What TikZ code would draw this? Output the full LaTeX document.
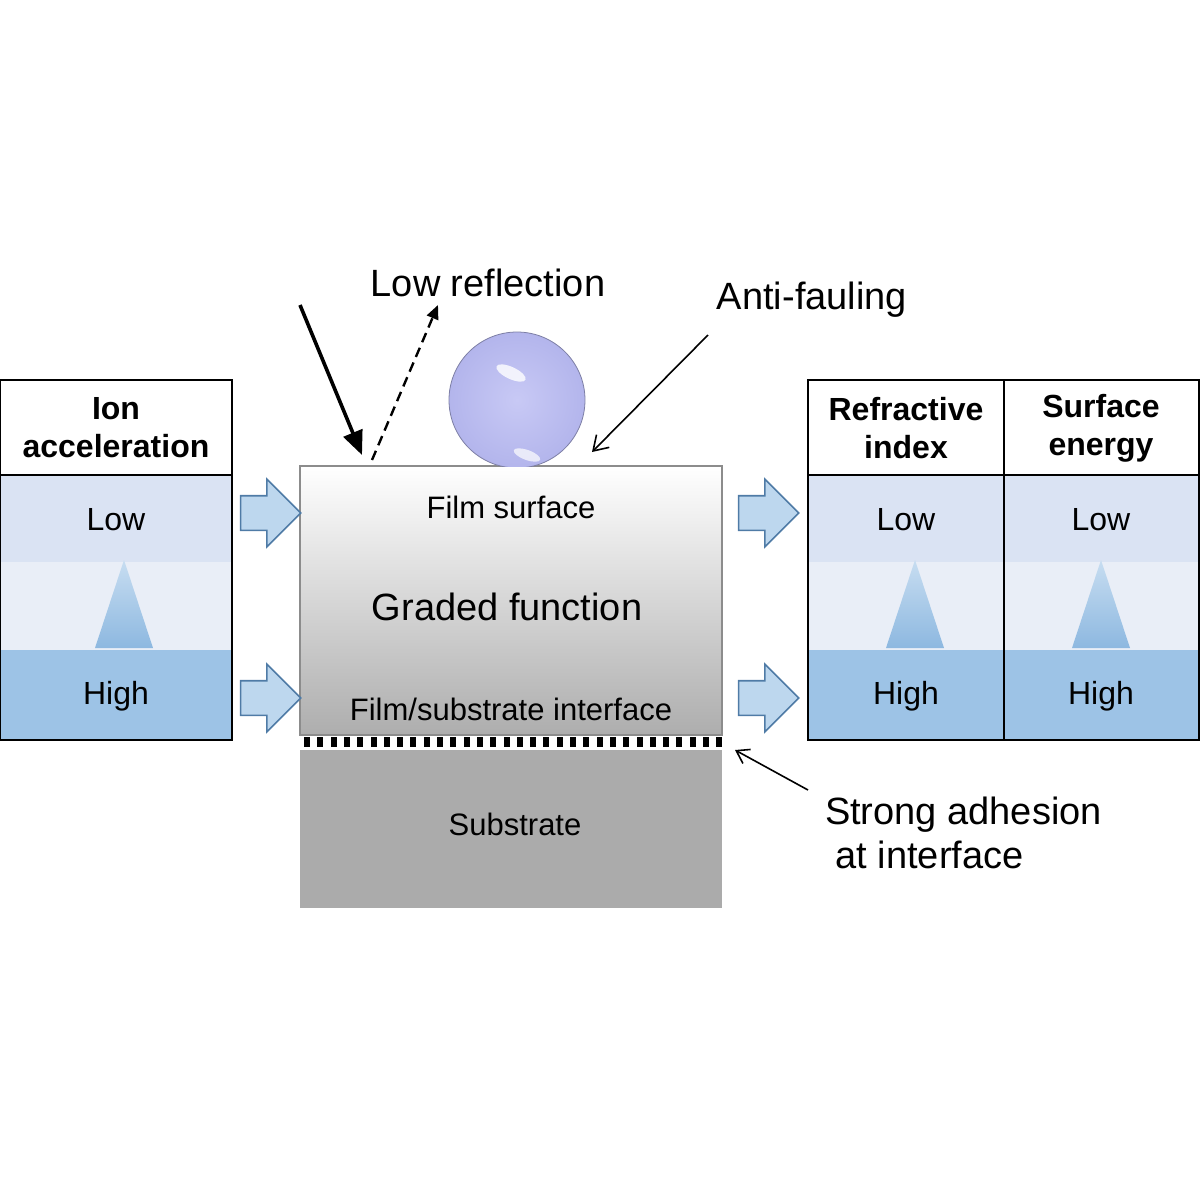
\documentclass[tikz,border=0pt]{standalone}
\usepackage{fontspec}
\setmainfont{Liberation Sans}
\usetikzlibrary{shapes.arrows,arrows.meta}
\definecolor{cLow}{HTML}{DAE3F3}\definecolor{cMid}{HTML}{E9EEF7}\definecolor{cHigh}{HTML}{9DC3E6}
\definecolor{cArr}{HTML}{BDD7EE}\definecolor{cArrD}{HTML}{4F7BA6}
\definecolor{cTriT}{HTML}{C7DDF1}\definecolor{cTriB}{HTML}{8DB8E0}
\definecolor{cDrop}{HTML}{C8C9F5}\definecolor{cDropO}{HTML}{B3B5EC}
\begin{document}
\begin{tikzpicture}[x=0.5pt,y=-0.5pt,
  hdr/.style={font=\fontsize{16}{19}\selectfont\bfseries,align=center},
  cell/.style={font=\fontsize{16}{18}\selectfont},
  lbl/.style={font=\fontsize{19}{22}\selectfont},
  barrow/.style={single arrow,draw=cArrD,fill=cArr,minimum height=30pt,inner xsep=0pt,inner ysep=8.25pt,single arrow head extend=8.25pt,line width=0.8pt,text height=0pt,text depth=0pt},
  tri/.style={top color=cTriT,bottom color=cTriB,draw=none}]
\useasboundingbox (0,0) rectangle (1200,1200);
% left table
\fill[cLow] (0,475) rectangle (232,562);
\fill[cMid] (0,562) rectangle (232,650);
\fill[cHigh] (0,650) rectangle (232,740);
\draw[line width=0.8pt] (0,380) rectangle (232,740) (0,475) -- (232,475);
\node[hdr] (lh) at (116,428) {Ion\\acceleration};
\node[cell] (ll) at (116,520) {Low};
\node[cell] (lhi) at (116,696) {High};
\shade[tri] (124,560) -- (153,648) -- (95,648) -- cycle;
% right table
\fill[cLow] (808,475) rectangle (1200,562);
\fill[cMid] (808,562) rectangle (1200,650);
\fill[cHigh] (808,650) rectangle (1200,740);
\draw[line width=0.8pt] (808,380) rectangle (1199,740) (808,475) -- (1199,475) (1004,380) -- (1004,740);
\node[hdr] (rh1) at (906,428) {Refractive\\index};
\node[hdr] (rh2) at (1101,428) {Surface\\energy};
\node[cell] (rl1) at (906,520) {Low};
\node[cell] (rl2) at (1101,520) {Low};
\node[cell] (rhh1) at (906,696) {High};
\node[cell] (rhh2) at (1101,696) {High};
\shade[tri] (915,560) -- (944,648) -- (886,648) -- cycle;
\shade[tri] (1101,560) -- (1130,648) -- (1072,648) -- cycle;
% film
\shade[top color=white,bottom color=black!32] (300,466) rectangle (722,735);
\draw[black!45,line width=0.8pt] (300,466) rectangle (722,735);
\foreach \i in {0,...,31} \fill[black] (304+\i*13.3,737) rectangle (310+\i*13.3,747);
\fill[black!33] (300,750) rectangle (722,908);
\node[font=\fontsize{15.5}{17}\selectfont] (fs) at (511,507) {Film surface};
\node[font=\fontsize{19}{22}\selectfont] (gf) at (507,607) {Graded function};
\node[font=\fontsize{15.5}{17}\selectfont] (fi) at (511,709) {Film/substrate interface};
\node[font=\fontsize{15.5}{17}\selectfont] (sb) at (515,824) {Substrate};
% droplet
\begin{scope}
\clip (300,300) rectangle (722,466);
\shade[inner color=cDrop,outer color=cDropO,draw=cDropO!70!black] (517,400) circle (68);
\fill[white,opacity=0.8,rotate around={-25:(511,373)}] (511,373) ellipse (16 and 6);
\fill[white,opacity=0.7,rotate around={-20:(527,455)}] (527,455) ellipse (14 and 5);
\end{scope}
% block arrows
\node[barrow] (a1) at (262,513) {};
\node[barrow] (a2) at (262,698) {};
\node[barrow] (a3) at (760,513) {};
\node[barrow] (a4) at (760,698) {};
% labels and arrows
\node[lbl] (lr) at (488,283) {Low reflection};
\node[lbl] (af) at (812,300) {Anti-fauling};
\node[lbl,align=left,anchor=north west] (sa) at (818,790) {Strong adhesion\\\ at interface};
\coordinate (i1) at (300,305); \coordinate (i2) at (362,455);
\coordinate (r1) at (372,460); \coordinate (r2) at (438,305);
\coordinate (d1) at (708,335); \coordinate (d2) at (592,452);
\coordinate (s1) at (808,790); \coordinate (s2) at (735,750);
\draw[line width=1.8pt,-{Triangle[length=12pt,width=10pt]}] (i1) -- (i2);
\draw[line width=1.2pt,dash pattern=on 5pt off 3pt,-{Triangle[length=7pt,width=6pt]}] (r1) -- (r2);
\draw[line width=0.8pt,-{Straight Barb[length=7pt,width=9pt]}] (d1) -- (d2);
\draw[line width=0.8pt,-{Straight Barb[length=6pt,width=8pt]}] (s1) -- (s2);
\end{tikzpicture}
\end{document}
